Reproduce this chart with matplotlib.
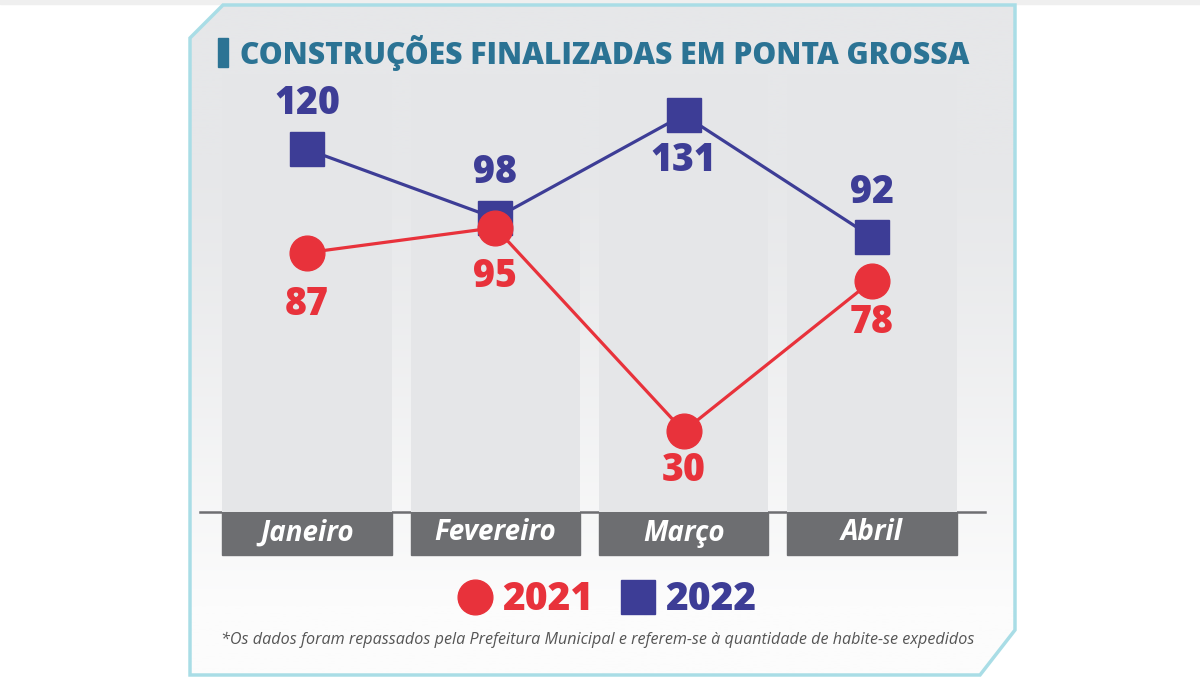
import numpy as np
import matplotlib.pyplot as plt
from matplotlib.patches import Polygon, Rectangle
from matplotlib.lines import Line2D

months = ['Janeiro', 'Fevereiro', 'Março', 'Abril']
vals_2021 = [87, 95, 30, 78]
vals_2022 = [120, 98, 131, 92]
series_names = ['2021', '2022']

title = 'CONSTRUÇÕES FINALIZADAS EM PONTA GROSSA'
footnote = ('*Os dados foram repassados pela Prefeitura Municipal e '
            'referem-se à quantidade de habite-se expedidos')

RED = '#e8323b'
BLUE = '#3d3d96'
TEAL = '#2b7394'
DARK = '#6d6e71'
PANEL = '#e6e7e9'
FONT = ['Open Sans', 'DejaVu Sans']

W, H = 1200, 677
fig = plt.figure(figsize=(W / 100, H / 100), dpi=100)
fig.patch.set_facecolor('white')

# background layer in pixel coordinates
bg = fig.add_axes([0, 0, 1, 1], zorder=0)
bg.set_xlim(0, W)
bg.set_ylim(H, 0)
bg.axis('off')
bg.add_patch(Rectangle((0, 0), W, 4, color='#efefef', zorder=0))

panel_xy = [(190, 38), (223, 5), (1015, 5), (1015, 630), (980, 675), (190, 675)]
grad = np.linspace(0, 1, 256).reshape(-1, 1)
grad = np.clip((grad - 0.22) / 0.68, 0, 1) ** 1.2
cmap = plt.matplotlib.colors.LinearSegmentedColormap.from_list('p', [PANEL, '#fcfcfc'])
im = bg.imshow(grad, cmap=cmap, extent=(190, 1015, 675, 5), aspect='auto', zorder=0)
clip = Polygon(panel_xy, closed=True, transform=bg.transData, facecolor='none')
im.set_clip_path(clip)
bg.add_patch(Polygon(panel_xy, closed=True, facecolor='none', edgecolor='#a9dde6', lw=2.5, zorder=1))

# baseline
bg.plot([200, 985], [512, 512], color=DARK, lw=1.8, zorder=2)

# data axes
ax = fig.add_axes([213 / W, (H - 512) / H, (966 - 213) / W, (512 - 5) / H], zorder=1)
ax.patch.set_alpha(0)
ax.axis('off')
x = np.arange(len(months))
ylo, yhi = 4.2, 166.1
ax.set_xlim(-0.5, 3.5)
ax.set_ylim(ylo, yhi)

# month columns, same tone as the top of the panel so they only show lower down
ax.bar(x, 144 - ylo, bottom=ylo, width=0.9, color='#e5e6e8', zorder=0)

xt = ax.get_xaxis_transform()
for i, m in enumerate(months):
    ax.add_patch(Rectangle((i - 0.45, -43 / 507), 0.9, 42 / 507, transform=xt,
                           color=DARK, clip_on=False, zorder=1))
    ax.text(i, -21 / 507, m, transform=xt, color='white', fontsize=20,
            fontweight='bold', style='italic', family=FONT,
            ha='center', va='center', clip_on=False)

ax.plot(x, vals_2022, color=BLUE, lw=2.3, marker='s', ms=24, zorder=3)
ax.plot(x, vals_2021, color=RED, lw=2.3, marker='o', ms=25, zorder=4)

# label offsets in points (negative = below the marker)
off_2022 = [33, 33, -33, 32]
off_2021 = [-37, -35, -28, -30]
for vals, offs, c in [(vals_2022, off_2022, BLUE), (vals_2021, off_2021, RED)]:
    for xi, v, o in zip(x, vals, offs):
        ax.annotate(str(v), (xi, v), xytext=(0, o), textcoords='offset points',
                    color=c, fontsize=27, fontweight='heavy', family=FONT,
                    ha='center', va='center', zorder=5)

handles = [Line2D([], [], ls='none', marker='o', ms=25, color=RED),
           Line2D([], [], ls='none', marker='s', ms=24, color=BLUE)]
leg = fig.legend(handles, series_names, loc='center', bbox_to_anchor=(607 / W, 1 - 600 / H),
                 ncol=2, frameon=False, handlelength=0.9, handletextpad=0.25,
                 columnspacing=0.7,
                 prop={'family': FONT, 'weight': 'heavy', 'size': 28})
for txt, c in zip(leg.get_texts(), [RED, BLUE]):
    txt.set_color(c)

# title and footnote on the figure, above both layers
fig.patches.append(Rectangle((218 / W, 1 - 67 / H), 10 / W, 29 / H, color=TEAL,
                             transform=fig.transFigure, figure=fig, zorder=5))
t_title = fig.text(240 / W, 1 - 53 / H, title, color=TEAL, fontsize=22,
                   fontweight='heavy', family=FONT, ha='left', va='center', zorder=5)
t_foot = fig.text(598 / W, 1 - 640 / H, footnote, color='#555555', fontsize=12,
                  style='italic', family=FONT, ha='center', va='center', zorder=5)

# fit title and footnote widths to the reference
fig.canvas.draw()
r = fig.canvas.get_renderer()
for t, target in [(t_title, 728), (t_foot, 753)]:
    w = t.get_window_extent(r).width
    t.set_fontsize(t.get_fontsize() * target / w)

fig.savefig('out.png', dpi=100)
